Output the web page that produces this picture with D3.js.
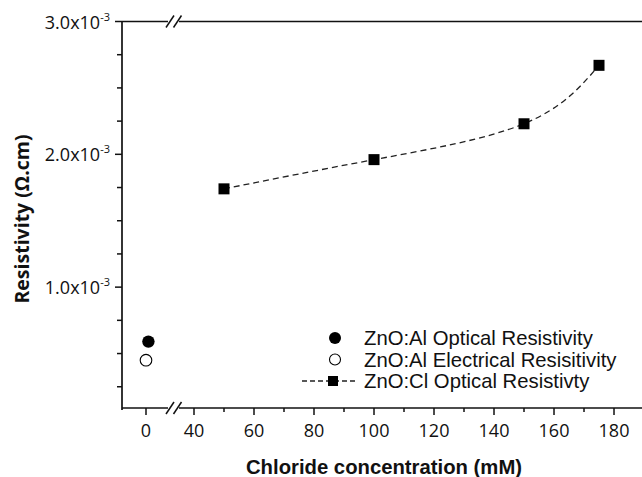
<!DOCTYPE html>
<html><head><meta charset="utf-8">
<script src="https://cdn.jsdelivr.net/npm/d3@7"></script>
<style>body{margin:0;background:#fff}svg{display:block}</style>
</head><body>
<svg id="c" width="642" height="477"></svg>
<script>
// ---- data ----
const clConc = [50, 100, 150, 175];
const clRes = [1.74e-3, 1.96e-3, 2.23e-3, 2.67e-3];
const alOptConc = [0.8];
const alOptRes = [0.59e-3];
const alElecConc = [0];
const alElecRes = [0.45e-3];
const xTicksLeft = [0];
const xTicksRight = [40, 60, 80, 100, 120, 140, 160, 180];
const xMinorRight = [50, 70, 90, 110, 130, 150, 170];
const yTicksMajor = [1.0e-3, 2.0e-3, 3.0e-3];
const yTicksMinor = [0.25e-3, 0.5e-3, 0.75e-3, 1.25e-3, 1.5e-3, 1.75e-3, 2.25e-3, 2.5e-3, 2.75e-3];
const legendLabels = ["ZnO:Al Optical Resistivity", "ZnO:Al Electrical Resisitivity", "ZnO:Cl Optical Resistivty"];

(function(){
const svg = d3.select("#c");
const pTop = 21.5, pBottom = 408, pLeft = 122;
const xL = d3.scaleLinear().domain([-8, 6]).range([pLeft, 164]);
const xR = d3.scaleLinear().domain([36, 189.33]).range([182, 642]);
const y = d3.scaleLinear().domain([0.09e-3, 3.0e-3]).range([pBottom, pTop]);
const ink = "#111";
const tickFont = "'Open Sans', sans-serif";

// y axis
const yAx = svg.append("g").attr("transform", `translate(${pLeft},0)`);
yAx.append("line").attr("x1",0).attr("x2",0).attr("y1",pTop).attr("y2",pBottom+2).attr("stroke",ink).attr("stroke-width",1.7);
yAx.selectAll(".ymaj").data(yTicksMajor).join("line").attr("class","ymaj").attr("x1",-7).attr("x2",0)
  .attr("y1",d=>y(d)).attr("y2",d=>y(d)).attr("stroke",ink).attr("stroke-width",1.5);
yAx.selectAll(".ymin").data(yTicksMinor).join("line").attr("class","ymin").attr("x1",-5).attr("x2",0)
  .attr("y1",d=>y(d)).attr("y2",d=>y(d)).attr("stroke",ink).attr("stroke-width",1.5);
const yl = yAx.selectAll(".ylab").data(yTicksMajor).join("text").attr("class","ylab")
  .attr("x",-12).attr("y",d=>y(d)+7).attr("text-anchor","end")
  .attr("font-family",tickFont).attr("font-size",18).attr("fill",ink);
yl.append("tspan").text(d=>(d*1e3).toFixed(1)+"x10");
yl.append("tspan").attr("font-size",11).attr("dy",-8).text("-3");

// top line with break
const brk = (g, yy) => {
  g.append("line").attr("x1",pLeft).attr("x2",168).attr("y1",yy).attr("y2",yy).attr("stroke",ink).attr("stroke-width",1.7);
  g.append("line").attr("x1",179).attr("x2",642).attr("y1",yy).attr("y2",yy).attr("stroke",ink).attr("stroke-width",1.7);
  [170, 177.5].forEach(cx => g.append("line").attr("x1",cx-4).attr("x2",cx+4).attr("y1",yy+6).attr("y2",yy-6).attr("stroke",ink).attr("stroke-width",1.5));
};
brk(svg.append("g"), pTop);

// bottom axis
const xg = svg.append("g");
brk(xg, pBottom);
const majors = xTicksLeft.map(v=>({v, px:xL(v)})).concat(xTicksRight.map(v=>({v, px:xR(v)})));
xg.selectAll(".xmaj").data(majors).join("line").attr("class","xmaj").attr("x1",d=>d.px).attr("x2",d=>d.px)
  .attr("y1",pBottom).attr("y2",pBottom+7).attr("stroke",ink).attr("stroke-width",1.5);
xg.selectAll(".xmin").data(xMinorRight).join("line").attr("class","xmin").attr("x1",d=>xR(d)).attr("x2",d=>xR(d))
  .attr("y1",pBottom).attr("y2",pBottom+4).attr("stroke",ink).attr("stroke-width",1.5);
xg.selectAll(".xlab").data(majors).join("text").attr("class","xlab").attr("x",d=>d.px).attr("y",437)
  .attr("text-anchor","middle").attr("font-family",tickFont).attr("font-size",18).attr("fill",ink).text(d=>d.v);

// axis titles
svg.append("text").attr("x",384).attr("y",474).attr("text-anchor","middle")
  .attr("font-family","'Liberation Sans', Arial, sans-serif").attr("font-weight","bold").attr("font-size",20.3).attr("fill",ink)
  .text("Chloride concentration (mM)");
svg.append("text").attr("transform","translate(29,219) rotate(-90)").attr("text-anchor","middle")
  .attr("font-family",tickFont).attr("font-weight","bold").attr("font-size",19.5).attr("fill",ink)
  .text("Resistivity (\u03A9.cm)");

// data
const line = d3.line().x(d=>xR(d[0])).y(d=>y(d[1])).curve(d3.curveNatural);
const clData = clConc.map((c,i)=>[c, clRes[i]]);
svg.append("path").datum(clData).attr("d",line).attr("fill","none").attr("stroke","#222")
  .attr("stroke-width",1.3).attr("stroke-dasharray","6,4");
const sq = 11;
svg.selectAll(".sq").data(clData).join("rect").attr("class","sq")
  .attr("x",d=>xR(d[0])-sq/2).attr("y",d=>y(d[1])-sq/2).attr("width",sq).attr("height",sq).attr("fill","#000");
svg.selectAll(".fc").data(alOptConc.map((c,i)=>[c, alOptRes[i]])).join("circle").attr("class","fc")
  .attr("cx",d=>xL(d[0])).attr("cy",d=>y(d[1])).attr("r",6.2).attr("fill","#000");
svg.selectAll(".oc").data(alElecConc.map((c,i)=>[c, alElecRes[i]])).join("circle").attr("class","oc")
  .attr("cx",d=>xL(d[0])).attr("cy",d=>y(d[1])).attr("r",5.8).attr("fill","#fff").attr("stroke","#000").attr("stroke-width",1.1);

// legend
const lg = svg.append("g");
const rowsY = [345, 366.5, 388];
lg.selectAll("text").data(legendLabels).join("text").attr("x",364).attr("y",(d,i)=>rowsY[i])
  .attr("font-family","'Liberation Sans', Arial, sans-serif").attr("font-size",20.3).attr("fill",ink).text(d=>d);
lg.append("circle").attr("cx",335).attr("cy",rowsY[0]-7).attr("r",6).attr("fill","#000");
lg.append("circle").attr("cx",335).attr("cy",rowsY[1]-7).attr("r",5.5).attr("fill","#fff").attr("stroke","#000").attr("stroke-width",1.1);
lg.append("line").attr("x1",302).attr("x2",358).attr("y1",rowsY[2]-7).attr("y2",rowsY[2]-7)
  .attr("stroke","#222").attr("stroke-width",1.3).attr("stroke-dasharray","5,3");
lg.append("rect").attr("x",333-5).attr("y",rowsY[2]-7-5).attr("width",10).attr("height",10).attr("fill","#000");
})();
</script>
</body></html>
